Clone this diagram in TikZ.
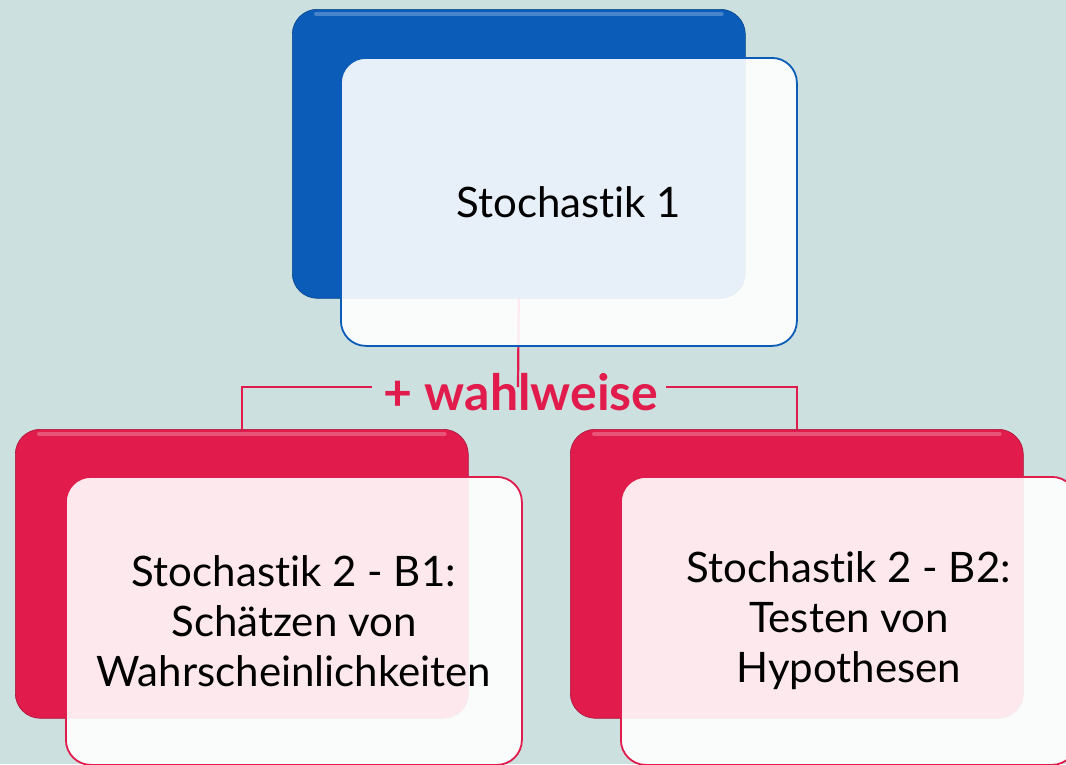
\documentclass[tikz,border=0pt]{standalone}
\usepackage{fontspec}
\setmainfont{Lato}[Ligatures=NoCommon]
\usepackage{tikz}
\usetikzlibrary{positioning}
\definecolor{bgteal}{HTML}{CCE0DF}
\definecolor{deepblue}{HTML}{0B5CB8}
\definecolor{crimson}{HTML}{E11B4C}

\begin{document}
\begin{tikzpicture}[x=1pt,y=-1pt,
  back/.style={rounded corners=25pt, minimum width=453pt, minimum height=289pt, inner sep=0pt, anchor=north west, draw=#1!75!black, line width=0.6pt, fill=#1},
  front/.style={rounded corners=25pt, minimum width=456pt, minimum height=288pt, inner sep=0pt, anchor=north west, draw=#1, line width=1.8pt, fill=white, fill opacity=0.9, text opacity=1, align=center, font=\fontsize{42}{50}\selectfont},
  link/.style={crimson, line width=2.2pt}]
\tikzstyle{gloss}=[white, opacity=0.25, line width=4pt, line cap=round]
\fill[bgteal] (0,0) rectangle (1066,764);
\useasboundingbox (0,0) rectangle (1066,764);
% back cards
\node[back=deepblue] (s1back) at (292,9) {};
\node[back=crimson] (b1back) at (15,429) {};
\node[back=crimson] (b2back) at (570,429) {};
\foreach \b in {s1back,b1back,b2back}{\draw[gloss] ([xshift=24pt,yshift=-5pt]\b.north west) -- ([xshift=-24pt,yshift=-5pt]\b.north east);}
% connectors
\node[text=crimson, font=\fontsize{50}{50}\selectfont\bfseries] (wahl) at (521,392) {+ wahlweise};
\coordinate (wl) at (372,387);
\coordinate (wr) at (666,387);
\draw[link] (s1back.south) -- (518,387);
\draw[link] (b1back.north) |- (wl);
\draw[link] (b2back.north) |- (wr);
% front cards
\node[front=deepblue] (s1) at (340,57) {Stochastik 1};
\node[front=crimson] (b1) at (65,476) {Stochastik 2 - B1:\\Schätzen von\\Wahrscheinlichkeiten};
\node[front=crimson] (b2) at (620,476) {Stochastik 2 - B2:\\Testen von\\Hypothesen};
\end{tikzpicture}
\end{document}
